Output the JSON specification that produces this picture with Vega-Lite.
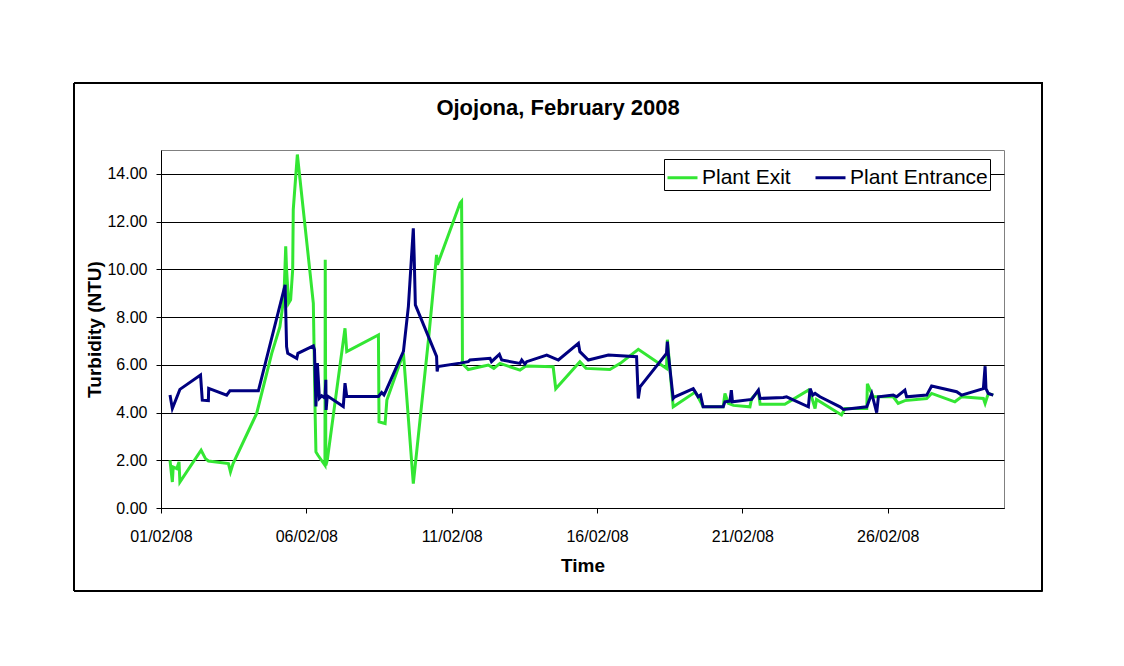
{
  "$schema": "https://vega.github.io/schema/vega-lite/v6.json",
  "width": 843,
  "height": 358,
  "autosize": {"type": "none"},
  "padding": {"left": 161, "top": 150, "right": 120, "bottom": 158},
  "background": "white",
  "title": {
    "text": "Ojojona, February 2008",
    "font": "Liberation Sans",
    "fontSize": 22,
    "fontWeight": "bold",
    "color": "black",
    "anchor": "middle",
    "frame": "bounds",
    "baseline": "alphabetic",
    "offset": -54
  },
  "data": {
    "values": [
      {"t": "2008-02-01T07:26", "series": "Plant Exit", "ntu": 2.00},
      {"t": "2008-02-01T09:22", "series": "Plant Exit", "ntu": 1.09},
      {"t": "2008-02-01T10:05", "series": "Plant Exit", "ntu": 1.72},
      {"t": "2008-02-01T12:58", "series": "Plant Exit", "ntu": 1.65},
      {"t": "2008-02-01T14:53", "series": "Plant Exit", "ntu": 1.93},
      {"t": "2008-02-01T15:36", "series": "Plant Exit", "ntu": 1.09},
      {"t": "2008-02-02T09:07", "series": "Plant Exit", "ntu": 2.42},
      {"t": "2008-02-02T12:43", "series": "Plant Exit", "ntu": 2.07},
      {"t": "2008-02-02T15:07", "series": "Plant Exit", "ntu": 1.97},
      {"t": "2008-02-03T07:41", "series": "Plant Exit", "ntu": 1.86},
      {"t": "2008-02-03T09:22", "series": "Plant Exit", "ntu": 1.51},
      {"t": "2008-02-03T11:31", "series": "Plant Exit", "ntu": 1.86},
      {"t": "2008-02-04T06:58", "series": "Plant Exit", "ntu": 3.96},
      {"t": "2008-02-04T19:26", "series": "Plant Exit", "ntu": 6.48},
      {"t": "2008-02-05T02:10", "series": "Plant Exit", "ntu": 7.60},
      {"t": "2008-02-05T05:31", "series": "Plant Exit", "ntu": 8.86},
      {"t": "2008-02-05T06:58", "series": "Plant Exit", "ntu": 10.96},
      {"t": "2008-02-05T07:41", "series": "Plant Exit", "ntu": 9.98},
      {"t": "2008-02-05T09:22", "series": "Plant Exit", "ntu": 8.58},
      {"t": "2008-02-05T11:02", "series": "Plant Exit", "ntu": 8.72},
      {"t": "2008-02-05T12:43", "series": "Plant Exit", "ntu": 9.98},
      {"t": "2008-02-05T13:12", "series": "Plant Exit", "ntu": 12.50},
      {"t": "2008-02-05T16:34", "series": "Plant Exit", "ntu": 14.81},
      {"t": "2008-02-06T05:46", "series": "Plant Exit", "ntu": 8.58},
      {"t": "2008-02-06T07:12", "series": "Plant Exit", "ntu": 4.10},
      {"t": "2008-02-06T07:55", "series": "Plant Exit", "ntu": 2.35},
      {"t": "2008-02-06T09:36", "series": "Plant Exit", "ntu": 2.21},
      {"t": "2008-02-06T15:22", "series": "Plant Exit", "ntu": 1.79},
      {"t": "2008-02-06T15:36", "series": "Plant Exit", "ntu": 10.40},
      {"t": "2008-02-06T16:05", "series": "Plant Exit", "ntu": 1.79},
      {"t": "2008-02-06T17:17", "series": "Plant Exit", "ntu": 2.00},
      {"t": "2008-02-07T07:55", "series": "Plant Exit", "ntu": 7.53},
      {"t": "2008-02-07T09:22", "series": "Plant Exit", "ntu": 6.55},
      {"t": "2008-02-08T11:31", "series": "Plant Exit", "ntu": 7.25},
      {"t": "2008-02-08T12:00", "series": "Plant Exit", "ntu": 3.61},
      {"t": "2008-02-08T17:02", "series": "Plant Exit", "ntu": 3.54},
      {"t": "2008-02-08T18:29", "series": "Plant Exit", "ntu": 4.52},
      {"t": "2008-02-09T08:10", "series": "Plant Exit", "ntu": 6.48},
      {"t": "2008-02-09T16:19", "series": "Plant Exit", "ntu": 1.02},
      {"t": "2008-02-10T04:48", "series": "Plant Exit", "ntu": 7.04},
      {"t": "2008-02-10T11:31", "series": "Plant Exit", "ntu": 10.61},
      {"t": "2008-02-10T12:14", "series": "Plant Exit", "ntu": 10.19},
      {"t": "2008-02-11T06:58", "series": "Plant Exit", "ntu": 12.78},
      {"t": "2008-02-11T08:10", "series": "Plant Exit", "ntu": 12.85},
      {"t": "2008-02-11T08:38", "series": "Plant Exit", "ntu": 9.42},
      {"t": "2008-02-11T08:53", "series": "Plant Exit", "ntu": 6.05},
      {"t": "2008-02-11T13:41", "series": "Plant Exit", "ntu": 5.80},
      {"t": "2008-02-12T06:14", "series": "Plant Exit", "ntu": 5.99},
      {"t": "2008-02-12T10:48", "series": "Plant Exit", "ntu": 5.85},
      {"t": "2008-02-12T15:50", "series": "Plant Exit", "ntu": 6.06},
      {"t": "2008-02-13T08:24", "series": "Plant Exit", "ntu": 5.78},
      {"t": "2008-02-13T13:12", "series": "Plant Exit", "ntu": 5.95},
      {"t": "2008-02-14T11:46", "series": "Plant Exit", "ntu": 5.92},
      {"t": "2008-02-14T13:55", "series": "Plant Exit", "ntu": 5.00},
      {"t": "2008-02-15T09:50", "series": "Plant Exit", "ntu": 6.13},
      {"t": "2008-02-15T14:53", "series": "Plant Exit", "ntu": 5.85},
      {"t": "2008-02-16T10:34", "series": "Plant Exit", "ntu": 5.80},
      {"t": "2008-02-16T19:12", "series": "Plant Exit", "ntu": 6.06},
      {"t": "2008-02-17T10:05", "series": "Plant Exit", "ntu": 6.65},
      {"t": "2008-02-18T09:22", "series": "Plant Exit", "ntu": 5.85},
      {"t": "2008-02-18T10:05", "series": "Plant Exit", "ntu": 7.05},
      {"t": "2008-02-18T14:53", "series": "Plant Exit", "ntu": 4.24},
      {"t": "2008-02-19T07:26", "series": "Plant Exit", "ntu": 4.80},
      {"t": "2008-02-19T08:53", "series": "Plant Exit", "ntu": 4.87},
      {"t": "2008-02-19T12:00", "series": "Plant Exit", "ntu": 4.60},
      {"t": "2008-02-19T15:36", "series": "Plant Exit", "ntu": 4.24},
      {"t": "2008-02-20T08:10", "series": "Plant Exit", "ntu": 4.24},
      {"t": "2008-02-20T09:36", "series": "Plant Exit", "ntu": 4.80},
      {"t": "2008-02-20T12:29", "series": "Plant Exit", "ntu": 4.38},
      {"t": "2008-02-20T16:34", "series": "Plant Exit", "ntu": 4.30},
      {"t": "2008-02-21T06:14", "series": "Plant Exit", "ntu": 4.24},
      {"t": "2008-02-21T07:41", "series": "Plant Exit", "ntu": 4.59},
      {"t": "2008-02-21T13:12", "series": "Plant Exit", "ntu": 4.90},
      {"t": "2008-02-21T14:38", "series": "Plant Exit", "ntu": 4.35},
      {"t": "2008-02-22T11:02", "series": "Plant Exit", "ntu": 4.35},
      {"t": "2008-02-23T06:29", "series": "Plant Exit", "ntu": 4.94},
      {"t": "2008-02-23T09:07", "series": "Plant Exit", "ntu": 4.66},
      {"t": "2008-02-23T12:00", "series": "Plant Exit", "ntu": 4.17},
      {"t": "2008-02-23T13:12", "series": "Plant Exit", "ntu": 4.55},
      {"t": "2008-02-24T09:50", "series": "Plant Exit", "ntu": 3.90},
      {"t": "2008-02-24T12:43", "series": "Plant Exit", "ntu": 4.17},
      {"t": "2008-02-25T06:43", "series": "Plant Exit", "ntu": 4.17},
      {"t": "2008-02-25T07:12", "series": "Plant Exit", "ntu": 5.20},
      {"t": "2008-02-25T09:22", "series": "Plant Exit", "ntu": 4.95},
      {"t": "2008-02-25T12:00", "series": "Plant Exit", "ntu": 4.66},
      {"t": "2008-02-25T17:31", "series": "Plant Exit", "ntu": 4.66},
      {"t": "2008-02-26T04:34", "series": "Plant Exit", "ntu": 4.66},
      {"t": "2008-02-26T08:38", "series": "Plant Exit", "ntu": 4.38},
      {"t": "2008-02-26T14:10", "series": "Plant Exit", "ntu": 4.50},
      {"t": "2008-02-27T08:10", "series": "Plant Exit", "ntu": 4.59},
      {"t": "2008-02-27T12:14", "series": "Plant Exit", "ntu": 4.80},
      {"t": "2008-02-28T07:26", "series": "Plant Exit", "ntu": 4.45},
      {"t": "2008-02-28T12:58", "series": "Plant Exit", "ntu": 4.66},
      {"t": "2008-02-29T06:58", "series": "Plant Exit", "ntu": 4.59},
      {"t": "2008-02-29T08:24", "series": "Plant Exit", "ntu": 4.38},
      {"t": "2008-02-29T11:02", "series": "Plant Exit", "ntu": 4.80},
      {"t": "2008-02-29T15:07", "series": "Plant Exit", "ntu": 4.73},
      {"t": "2008-02-01T07:26", "series": "Plant Entrance", "ntu": 4.73},
      {"t": "2008-02-01T09:22", "series": "Plant Entrance", "ntu": 4.17},
      {"t": "2008-02-01T15:36", "series": "Plant Entrance", "ntu": 4.97},
      {"t": "2008-02-02T08:38", "series": "Plant Entrance", "ntu": 5.57},
      {"t": "2008-02-02T10:05", "series": "Plant Entrance", "ntu": 4.52},
      {"t": "2008-02-02T15:07", "series": "Plant Entrance", "ntu": 4.50},
      {"t": "2008-02-02T15:22", "series": "Plant Entrance", "ntu": 5.01},
      {"t": "2008-02-03T06:14", "series": "Plant Entrance", "ntu": 4.73},
      {"t": "2008-02-03T08:53", "series": "Plant Entrance", "ntu": 4.91},
      {"t": "2008-02-04T08:24", "series": "Plant Entrance", "ntu": 4.91},
      {"t": "2008-02-05T06:29", "series": "Plant Entrance", "ntu": 9.35},
      {"t": "2008-02-05T07:41", "series": "Plant Entrance", "ntu": 6.76},
      {"t": "2008-02-05T08:38", "series": "Plant Entrance", "ntu": 6.48},
      {"t": "2008-02-05T16:05", "series": "Plant Entrance", "ntu": 6.27},
      {"t": "2008-02-05T17:02", "series": "Plant Entrance", "ntu": 6.48},
      {"t": "2008-02-06T05:46", "series": "Plant Entrance", "ntu": 6.79},
      {"t": "2008-02-06T06:43", "series": "Plant Entrance", "ntu": 6.63},
      {"t": "2008-02-06T07:55", "series": "Plant Entrance", "ntu": 4.25},
      {"t": "2008-02-06T09:07", "series": "Plant Entrance", "ntu": 6.07},
      {"t": "2008-02-06T10:48", "series": "Plant Entrance", "ntu": 4.60},
      {"t": "2008-02-06T12:43", "series": "Plant Entrance", "ntu": 4.70},
      {"t": "2008-02-06T15:22", "series": "Plant Entrance", "ntu": 4.60},
      {"t": "2008-02-06T16:05", "series": "Plant Entrance", "ntu": 5.37},
      {"t": "2008-02-06T16:19", "series": "Plant Entrance", "ntu": 4.11},
      {"t": "2008-02-06T17:17", "series": "Plant Entrance", "ntu": 4.70},
      {"t": "2008-02-07T06:29", "series": "Plant Entrance", "ntu": 4.25},
      {"t": "2008-02-07T07:55", "series": "Plant Entrance", "ntu": 5.23},
      {"t": "2008-02-07T09:22", "series": "Plant Entrance", "ntu": 4.67},
      {"t": "2008-02-08T11:31", "series": "Plant Entrance", "ntu": 4.67},
      {"t": "2008-02-08T14:10", "series": "Plant Entrance", "ntu": 4.84},
      {"t": "2008-02-08T16:05", "series": "Plant Entrance", "ntu": 4.74},
      {"t": "2008-02-08T17:46", "series": "Plant Entrance", "ntu": 4.92},
      {"t": "2008-02-09T08:10", "series": "Plant Entrance", "ntu": 6.56},
      {"t": "2008-02-09T12:14", "series": "Plant Entrance", "ntu": 8.44},
      {"t": "2008-02-09T16:19", "series": "Plant Entrance", "ntu": 11.72},
      {"t": "2008-02-09T17:02", "series": "Plant Entrance", "ntu": 10.54},
      {"t": "2008-02-09T18:00", "series": "Plant Entrance", "ntu": 8.51},
      {"t": "2008-02-10T11:31", "series": "Plant Entrance", "ntu": 6.35},
      {"t": "2008-02-10T12:00", "series": "Plant Entrance", "ntu": 5.72},
      {"t": "2008-02-10T12:43", "series": "Plant Entrance", "ntu": 5.93},
      {"t": "2008-02-11T06:58", "series": "Plant Entrance", "ntu": 6.07},
      {"t": "2008-02-11T13:41", "series": "Plant Entrance", "ntu": 6.13},
      {"t": "2008-02-11T15:07", "series": "Plant Entrance", "ntu": 6.20},
      {"t": "2008-02-12T07:41", "series": "Plant Entrance", "ntu": 6.27},
      {"t": "2008-02-12T08:53", "series": "Plant Entrance", "ntu": 6.13},
      {"t": "2008-02-12T15:22", "series": "Plant Entrance", "ntu": 6.44},
      {"t": "2008-02-12T17:17", "series": "Plant Entrance", "ntu": 6.20},
      {"t": "2008-02-13T08:24", "series": "Plant Entrance", "ntu": 6.06},
      {"t": "2008-02-13T09:50", "series": "Plant Entrance", "ntu": 6.20},
      {"t": "2008-02-13T12:29", "series": "Plant Entrance", "ntu": 6.03},
      {"t": "2008-02-13T13:55", "series": "Plant Entrance", "ntu": 6.13},
      {"t": "2008-02-14T06:29", "series": "Plant Entrance", "ntu": 6.41},
      {"t": "2008-02-14T16:05", "series": "Plant Entrance", "ntu": 6.20},
      {"t": "2008-02-15T08:38", "series": "Plant Entrance", "ntu": 6.90},
      {"t": "2008-02-15T09:50", "series": "Plant Entrance", "ntu": 6.55},
      {"t": "2008-02-15T16:48", "series": "Plant Entrance", "ntu": 6.20},
      {"t": "2008-02-16T09:22", "series": "Plant Entrance", "ntu": 6.41},
      {"t": "2008-02-17T08:38", "series": "Plant Entrance", "ntu": 6.34},
      {"t": "2008-02-17T10:05", "series": "Plant Entrance", "ntu": 4.59},
      {"t": "2008-02-17T11:31", "series": "Plant Entrance", "ntu": 5.08},
      {"t": "2008-02-18T09:22", "series": "Plant Entrance", "ntu": 6.48},
      {"t": "2008-02-18T10:05", "series": "Plant Entrance", "ntu": 6.97},
      {"t": "2008-02-18T10:48", "series": "Plant Entrance", "ntu": 6.48},
      {"t": "2008-02-18T14:53", "series": "Plant Entrance", "ntu": 4.59},
      {"t": "2008-02-18T16:19", "series": "Plant Entrance", "ntu": 4.66},
      {"t": "2008-02-19T07:26", "series": "Plant Entrance", "ntu": 5.00},
      {"t": "2008-02-19T11:31", "series": "Plant Entrance", "ntu": 4.66},
      {"t": "2008-02-19T13:26", "series": "Plant Entrance", "ntu": 4.73},
      {"t": "2008-02-19T15:36", "series": "Plant Entrance", "ntu": 4.24},
      {"t": "2008-02-20T08:10", "series": "Plant Entrance", "ntu": 4.24},
      {"t": "2008-02-20T09:36", "series": "Plant Entrance", "ntu": 4.45},
      {"t": "2008-02-20T13:41", "series": "Plant Entrance", "ntu": 4.48},
      {"t": "2008-02-20T14:53", "series": "Plant Entrance", "ntu": 4.94},
      {"t": "2008-02-20T15:50", "series": "Plant Entrance", "ntu": 4.45},
      {"t": "2008-02-21T07:41", "series": "Plant Entrance", "ntu": 4.55},
      {"t": "2008-02-21T13:12", "series": "Plant Entrance", "ntu": 4.94},
      {"t": "2008-02-21T14:38", "series": "Plant Entrance", "ntu": 4.59},
      {"t": "2008-02-22T09:50", "series": "Plant Entrance", "ntu": 4.63},
      {"t": "2008-02-22T12:29", "series": "Plant Entrance", "ntu": 4.66},
      {"t": "2008-02-23T06:29", "series": "Plant Entrance", "ntu": 4.24},
      {"t": "2008-02-23T07:55", "series": "Plant Entrance", "ntu": 5.00},
      {"t": "2008-02-23T10:05", "series": "Plant Entrance", "ntu": 4.73},
      {"t": "2008-02-23T12:00", "series": "Plant Entrance", "ntu": 4.80},
      {"t": "2008-02-23T16:05", "series": "Plant Entrance", "ntu": 4.66},
      {"t": "2008-02-24T08:38", "series": "Plant Entrance", "ntu": 4.24},
      {"t": "2008-02-24T11:31", "series": "Plant Entrance", "ntu": 4.13},
      {"t": "2008-02-25T06:43", "series": "Plant Entrance", "ntu": 4.24},
      {"t": "2008-02-25T10:48", "series": "Plant Entrance", "ntu": 4.80},
      {"t": "2008-02-25T14:53", "series": "Plant Entrance", "ntu": 4.00},
      {"t": "2008-02-25T16:19", "series": "Plant Entrance", "ntu": 4.66},
      {"t": "2008-02-26T04:34", "series": "Plant Entrance", "ntu": 4.73},
      {"t": "2008-02-26T07:26", "series": "Plant Entrance", "ntu": 4.66},
      {"t": "2008-02-26T14:10", "series": "Plant Entrance", "ntu": 4.94},
      {"t": "2008-02-26T15:36", "series": "Plant Entrance", "ntu": 4.66},
      {"t": "2008-02-27T08:10", "series": "Plant Entrance", "ntu": 4.73},
      {"t": "2008-02-27T12:14", "series": "Plant Entrance", "ntu": 5.11},
      {"t": "2008-02-28T08:53", "series": "Plant Entrance", "ntu": 4.87},
      {"t": "2008-02-28T12:58", "series": "Plant Entrance", "ntu": 4.73},
      {"t": "2008-02-29T06:58", "series": "Plant Entrance", "ntu": 5.00},
      {"t": "2008-02-29T08:24", "series": "Plant Entrance", "ntu": 5.94},
      {"t": "2008-02-29T09:07", "series": "Plant Entrance", "ntu": 5.00},
      {"t": "2008-02-29T11:02", "series": "Plant Entrance", "ntu": 4.80},
      {"t": "2008-02-29T15:07", "series": "Plant Entrance", "ntu": 4.73}
    ]
  },
  "layer": [
    {
      "mark": {"type": "line", "strokeWidth": 3, "interpolate": "linear"},
      "encoding": {
        "x": {
          "field": "t",
          "type": "temporal",
          "scale": {
            "domain": [
              {"year": 2008, "month": 2, "date": 1},
              {"year": 2008, "month": 3, "date": 1}
            ],
            "nice": false
          },
          "axis": {
            "title": "Time",
            "values": [
              {"year": 2008, "month": 2, "date": 1},
              {"year": 2008, "month": 2, "date": 6},
              {"year": 2008, "month": 2, "date": 11},
              {"year": 2008, "month": 2, "date": 16},
              {"year": 2008, "month": 2, "date": 21},
              {"year": 2008, "month": 2, "date": 26}
            ],
            "format": "%d/%m/%y",
            "grid": false,
            "labelPadding": 15,
            "titlePadding": 12
          }
        },
        "y": {
          "field": "ntu",
          "type": "quantitative",
          "scale": {"domain": [0, 15], "nice": false},
          "axis": {
            "title": "Turbidity (NTU)",
            "values": [0, 2, 4, 6, 8, 10, 12, 14],
            "format": ".2f",
            "grid": true,
            "labelPadding": 9,
            "titlePadding": 2
          }
        },
        "color": {
          "field": "series",
          "type": "nominal",
          "sort": null,
          "scale": {
            "domain": ["Plant Exit", "Plant Entrance"],
            "range": ["#33E633", "#000080"]
          },
          "legend": {
            "title": null,
            "orient": "none",
            "legendX": 503,
            "legendY": 9,
            "direction": "horizontal",
            "symbolType": "stroke",
            "symbolSize": 900,
            "symbolStrokeWidth": 3,
            "labelFontSize": 21,
            "labelOffset": 3,
            "columnPadding": 18,
            "padding": 2,
            "strokeColor": "black",
            "fillColor": "white"
          }
        }
      }
    },
    {
      "mark": {"type": "rect", "fill": null, "stroke": "black", "strokeWidth": 1, "clip": false},
      "encoding": {
        "x": {"datum": {"year": 2008, "month": 1, "date": 29, "hours": 0, "minutes": 12}, "type": "temporal"},
        "x2": {"datum": {"year": 2008, "month": 3, "date": 2, "hours": 7, "minutes": 26}},
        "y": {"datum": 17.8, "type": "quantitative"},
        "y2": {"datum": -3.46}
      }
    }
  ],
  "config": {
    "font": "Liberation Sans",
    "view": {"stroke": "#808080", "strokeWidth": 1},
    "axis": {
      "domainColor": "black",
      "domainWidth": 1,
      "tickColor": "black",
      "tickSize": 5,
      "gridColor": "black",
      "gridWidth": 1,
      "gridOpacity": 1,
      "labelFont": "Liberation Sans",
      "labelFontSize": 16,
      "labelColor": "black",
      "labelOverlap": false,
      "labelFlush": false,
      "titleFont": "Liberation Sans",
      "titleFontSize": 19,
      "titleFontWeight": "bold",
      "titleColor": "black"
    },
    "legend": {
      "labelFont": "Liberation Sans",
      "labelColor": "black"
    }
  }
}
